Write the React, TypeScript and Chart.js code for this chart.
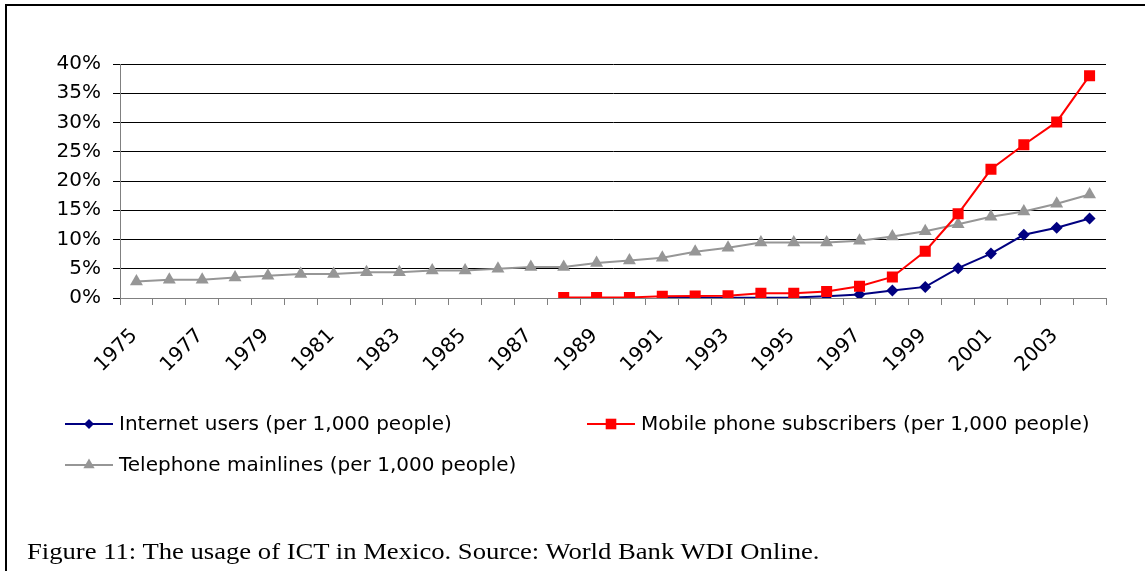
import React, { useEffect, useRef } from 'react';
import { Chart, registerables } from 'chart.js';
import { drawPoint } from 'chart.js/helpers';

Chart.register(...registerables);

// Years on the category axis (every other one is labelled)
const years = [
  '1975', '1976', '1977', '1978', '1979', '1980', '1981', '1982', '1983', '1984',
  '1985', '1986', '1987', '1988', '1989', '1990', '1991', '1992', '1993', '1994',
  '1995', '1996', '1997', '1998', '1999', '2000', '2001', '2002', '2003', '2004',
];

// Values in percent (per 1,000 people / 10)
const internetUsers = [
  null, null, null, null, null, null, null, null, null, null,
  null, null, null, null, null, null, 0.01, 0.02, 0.03, 0.04,
  0.1, 0.3, 0.6, 1.3, 1.9, 5.1, 7.6, 10.8, 12.0, 13.6,
];

const mobileSubscribers = [
  null, null, null, null, null, null, null, null, null, null,
  null, null, null, 0.1, 0.1, 0.1, 0.3, 0.35, 0.4, 0.8,
  0.8, 1.1, 2.0, 3.6, 8.0, 14.4, 22.0, 26.2, 30.1, 38.0,
];

const telephoneMainlines = [
  2.8, 3.1, 3.1, 3.5, 3.8, 4.1, 4.1, 4.4, 4.4, 4.7,
  4.7, 5.0, 5.3, 5.3, 6.0, 6.4, 6.9, 7.9, 8.6, 9.5,
  9.5, 9.5, 9.8, 10.5, 11.4, 12.6, 13.9, 14.8, 16.1, 17.7,
];

const seriesNames = [
  'Internet users (per 1,000 people)',
  'Mobile phone subscribers (per 1,000 people)',
  'Telephone mainlines (per 1,000 people)',
];

const yMax = 40;
const yStep = 5;

const caption = 'Figure 11: The usage of ICT in Mexico. Source: World Bank WDI Online.';

const SANS = '"DejaVu Sans", "Liberation Sans", sans-serif';
const W = 1145;
const H = 571;

// Legend drawn below the axis: two items on the first row, one on the second
const legendSlots = [
  { x: 65, y: 424 },
  { x: 587, y: 424 },
  { x: 65, y: 465 },
];
const legendRadius = [5, 7.5, 6.5];

const legendPlugin = {
  id: 'figureLegend',
  afterDraw(chart: any) {
    const ctx: CanvasRenderingContext2D = chart.ctx;
    chart.data.datasets.forEach((ds: any, i: number) => {
      const slot = legendSlots[i];
      if (!slot) return;
      ctx.save();
      ctx.strokeStyle = ds.borderColor;
      ctx.lineWidth = 2;
      ctx.beginPath();
      ctx.moveTo(slot.x, slot.y);
      ctx.lineTo(slot.x + 48, slot.y);
      ctx.stroke();
      ctx.fillStyle = ds.pointBackgroundColor;
      ctx.strokeStyle = ds.pointBorderColor;
      drawPoint(ctx, { pointStyle: ds.pointStyle, radius: legendRadius[i], rotation: 0, borderWidth: 0 }, slot.x + 24, slot.y);
      ctx.fillStyle = '#000';
      ctx.font = `20px ${SANS}`;
      ctx.textBaseline = 'middle';
      ctx.textAlign = 'left';
      ctx.fillText(ds.label, slot.x + 54, slot.y + 1);
      ctx.restore();
    });
  },
};

function IctChart() {
  const canvasRef = useRef<HTMLCanvasElement | null>(null);

  useEffect(() => {
    const canvas = canvasRef.current;
    if (!canvas) return;
    const chart = new Chart(canvas, {
      type: 'line',
      data: {
        labels: years,
        datasets: [
          {
            label: seriesNames[0],
            data: internetUsers,
            borderColor: '#000080',
            backgroundColor: '#000080',
            pointBackgroundColor: '#000080',
            pointBorderColor: '#000080',
            pointStyle: 'rectRot',
            pointRadius: 6,
            pointBorderWidth: 0,
            borderWidth: 2,
            tension: 0,
            order: 1,
          },
          {
            label: seriesNames[1],
            data: mobileSubscribers,
            borderColor: '#ff0000',
            backgroundColor: '#ff0000',
            pointBackgroundColor: '#ff0000',
            pointBorderColor: '#ff0000',
            pointStyle: 'rect',
            pointRadius: 7.8,
            pointBorderWidth: 0,
            borderWidth: 2,
            tension: 0,
            order: 0,
          },
          {
            label: seriesNames[2],
            data: telephoneMainlines,
            borderColor: '#969696',
            backgroundColor: '#969696',
            pointBackgroundColor: '#969696',
            pointBorderColor: '#969696',
            pointStyle: 'triangle',
            pointRadius: 7.5,
            pointBorderWidth: 0,
            borderWidth: 2,
            tension: 0,
            order: 2,
          },
        ],
      },
      options: {
        responsive: false,
        animation: false,
        events: [],
        layout: { padding: { left: 20, right: 39, top: 64, bottom: H - 298 - 90 } },
        plugins: {
          legend: { display: false },
          tooltip: { enabled: false },
          title: { display: false },
        },
        scales: {
          x: {
            type: 'category',
            offset: true,
            afterFit: (s: any) => { s.height = 90; },
            grid: {
              offset: true,
              drawOnChartArea: false,
              drawTicks: true,
              tickLength: 7,
              color: '#808080',
              lineWidth: 1,
            },
            border: { color: '#808080', width: 1 },
            ticks: {
              autoSkip: false,
              minRotation: 45,
              maxRotation: 45,
              padding: 19,
              labelOffset: -2,
              color: '#000',
              font: { family: SANS, size: 20 },
              callback: (_v: any, i: number) => (i % 2 === 0 ? years[i] : ''),
            },
          },
          y: {
            min: 0,
            max: yMax,
            afterFit: (s: any) => { s.width = 100; },
            grid: {
              color: '#000',
              lineWidth: 1,
              drawTicks: true,
              tickLength: 7,
            },
            border: { color: '#808080', width: 1 },
            ticks: {
              stepSize: yStep,
              padding: 12,
              color: '#000',
              font: { family: SANS, size: 20 },
              callback: (v: any) => `${v}%`,
            },
          },
        },
      },
      plugins: [legendPlugin],
    });
    return () => chart.destroy();
  }, []);

  return (
    <canvas
      ref={canvasRef}
      width={W}
      height={H}
      style={{ position: 'absolute', left: 0, top: 0, width: W, height: H, display: 'block' }}
    />
  );
}

export default function App() {
  return (
    <div style={{ position: 'absolute', left: 0, top: 0, width: W, height: H, background: '#fff', overflow: 'hidden' }}>
      <div
        style={{
          position: 'absolute',
          left: 5,
          top: 4,
          width: W,
          height: H,
          borderLeft: '2px solid #000',
          borderTop: '2px solid #000',
        }}
      />
      <IctChart />
      <div
        style={{
          position: 'absolute',
          left: 27,
          top: 539,
          fontFamily: '"Liberation Serif", "Times New Roman", serif',
          fontSize: 24,
          lineHeight: '24px',
          whiteSpace: 'nowrap',
          transform: 'scaleX(1.11)',
          transformOrigin: 'left top',
          color: '#000',
        }}
      >
        {caption}
      </div>
    </div>
  );
}
